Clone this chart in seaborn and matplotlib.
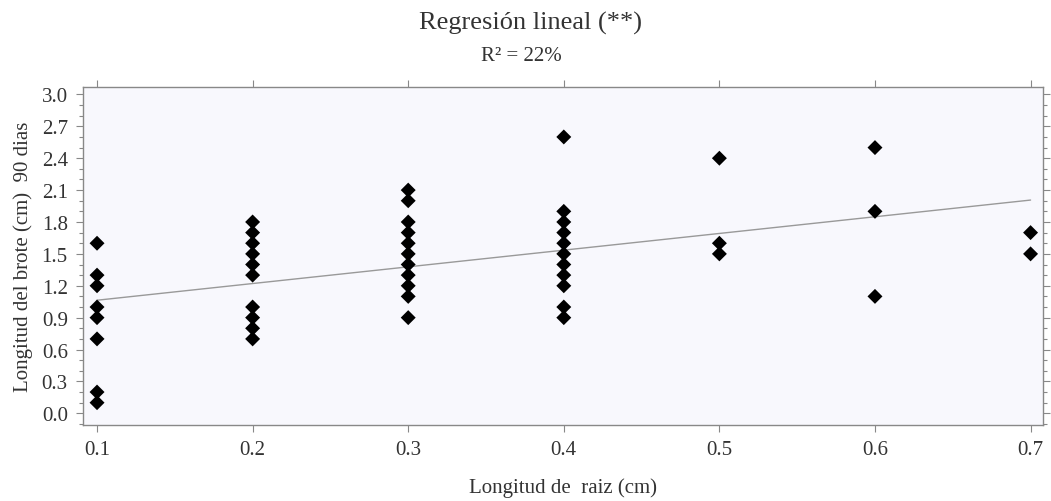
import numpy as np
import pandas as pd
import seaborn as sns
import matplotlib.pyplot as plt
from matplotlib.ticker import MultipleLocator

# root length (cm) and shoot length (cm) at 90 days
raiz_01 = [1.6, 1.3, 1.2, 1.0, 0.9, 0.7, 0.2, 0.1]
raiz_02 = [1.8, 1.7, 1.6, 1.5, 1.4, 1.3, 1.0, 0.9, 0.8, 0.7]
raiz_03 = [2.1, 2.0, 1.8, 1.7, 1.6, 1.5, 1.4, 1.3, 1.2, 1.1, 0.9]
raiz_04 = [2.6, 1.9, 1.8, 1.7, 1.6, 1.5, 1.4, 1.3, 1.2, 1.0, 0.9]
raiz_05 = [2.4, 1.6, 1.5]
raiz_06 = [2.5, 1.9, 1.1]
raiz_07 = [1.7, 1.5]

longitudes_raiz = [0.1, 0.2, 0.3, 0.4, 0.5, 0.6, 0.7]
brotes = [raiz_01, raiz_02, raiz_03, raiz_04, raiz_05, raiz_06, raiz_07]

x_ticks = [0.1, 0.2, 0.3, 0.4, 0.5, 0.6, 0.7]
y_ticks = [0.0, 0.3, 0.6, 0.9, 1.2, 1.5, 1.8, 2.1, 2.4, 2.7, 3.0]


def build_frame():
    rows = []
    for raiz, valores in zip(longitudes_raiz, brotes):
        for v in valores:
            rows.append((raiz, v))
    return pd.DataFrame(rows, columns=["raiz", "brote"])


df = build_frame()

sns.set_style("ticks")
plt.rcParams['font.family'] = ['Liberation Serif', 'DejaVu Serif']
plt.rcParams['text.color'] = '#333333'
plt.rcParams['axes.labelcolor'] = '#333333'

fig = plt.figure(figsize=(10.51, 5.02), dpi=100)
ax = fig.add_axes([0.079, 0.1514, 0.9134, 0.6733])
ax.set_facecolor('#f8f8fd')

sns.regplot(data=df, x="raiz", y="brote", scatter=False, ci=None, ax=ax,
            color='#999999', line_kws={'linewidth': 1.0})
sns.scatterplot(data=df, x="raiz", y="brote", marker='D', color='black',
                s=58, edgecolor='none', ax=ax, zorder=3)

ax.set_xlim(0.091, 0.708)
ax.set_ylim(-0.11, 3.07)
ax.set_xticks(x_ticks)
ax.set_xticklabels([f"{t:.1f}" for t in x_ticks])
ax.set_yticks(y_ticks)
ax.set_yticklabels([f"{t:.1f}" for t in y_ticks])
ax.yaxis.set_minor_locator(MultipleLocator(0.1))

for s in ax.spines.values():
    s.set_color('#888888')
    s.set_linewidth(1.0)
    s.set_visible(True)

ax.tick_params(axis='both', which='major', direction='out', length=5,
               width=0.8, color='#888888', labelsize=15, labelcolor='#333333',
               top=True, right=True, pad=6)
ax.tick_params(axis='y', which='minor', direction='out', length=3,
               width=0.8, color='#888888', left=True, right=True)

ax.set_xlabel("Longitud de  raiz (cm)", fontsize=15, labelpad=13)
ax.set_ylabel("Longitud del brote (cm)  90 dias", fontsize=15, labelpad=6)

fig.text(0.505, 0.953, "Regresión lineal (**)", ha='center', va='center',
         fontsize=19, color='#333333')
fig.text(0.496, 0.888, "R² = 22%", ha='center', va='center',
         fontsize=15, color='#333333')

fig.savefig("out.png", dpi=100, facecolor='white')
